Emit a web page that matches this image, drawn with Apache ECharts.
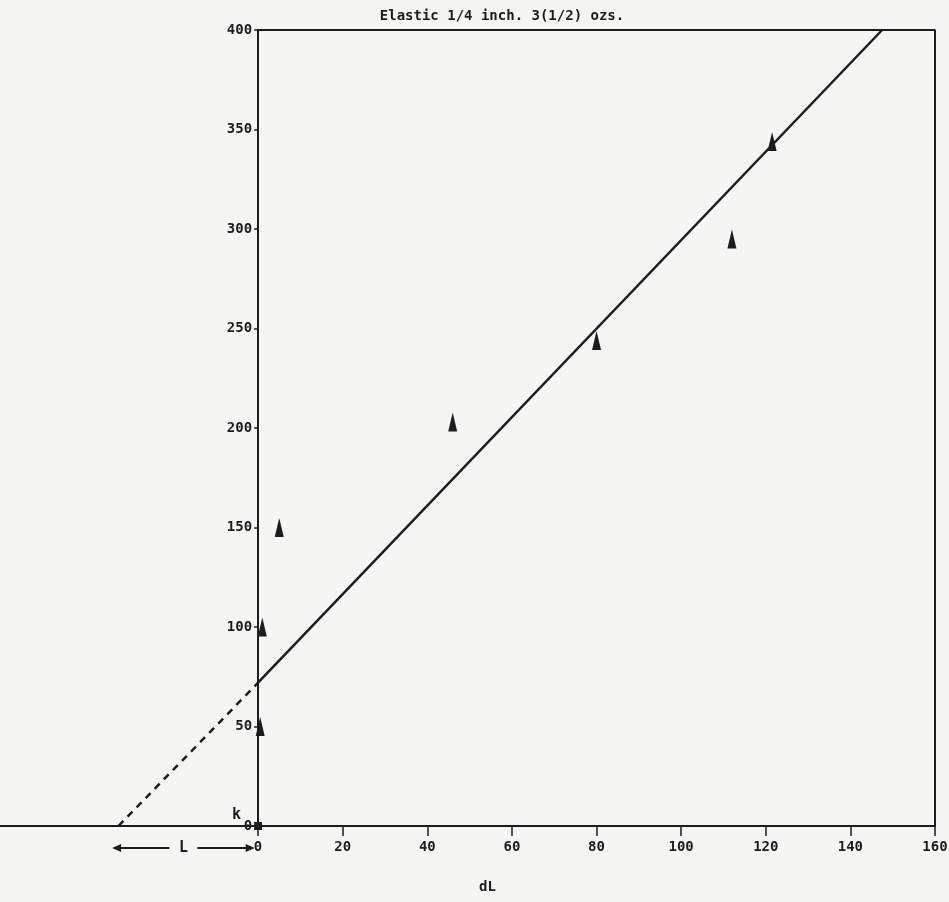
<!DOCTYPE html>
<html>
<head>
<meta charset="utf-8">
<script src="https://cdn.jsdelivr.net/npm/echarts@6/dist/echarts.min.js"></script>
<style>
html,body{margin:0;padding:0;background:#f5f5f3;}
#chart{width:949px;height:902px;}
</style>
</head>
<body>
<div id="chart"></div>
<script>
// ---- data ----
var titleText = 'Elastic 1/4 inch. 3(1/2) ozs.';
var xTickValues = [0, 20, 40, 60, 80, 100, 120, 140, 160];
var yTickValues = [0, 50, 100, 150, 200, 250, 300, 350, 400];
var pointsX = [0.5, 1, 5, 46, 80, 112, 121.5];
var pointsY = [50, 100, 150, 203, 244, 295, 344];
var originPoint = [[0, 0]];
var fitSolid = [[0, 72], [147.5, 400]];
var fitDashed = [[-33, 0], [0, 72]];
var xMin = -61, xMax = 160, yMin = 0, yMax = 400;

var ink = '#1c1c1c';
var font = 'DejaVu Sans Mono';
var gridLeft = 0;

var chart = echarts.init(document.getElementById('chart'));
var pts = pointsX.map(function (x, i) { return [x, pointsY[i]]; });
var frame = [[0, yMax], [xMax, yMax], [xMax, yMin]];

chart.setOption({
  backgroundColor: '#f5f5f3',
  animation: false,
  title: {
    text: titleText, left: 497, top: 4, textAlign: 'center',
    textStyle: { fontFamily: font, fontWeight: 'bold', fontSize: 14, color: ink }
  },
  grid: { left: gridLeft, right: 14, top: 30, bottom: 76, containLabel: false, outerBoundsMode: 'none' },
  xAxis: {
    type: 'value', min: xMin, max: xMax,
    name: 'dL', nameLocation: 'middle', nameGap: 54,
    nameTextStyle: { fontFamily: font, fontWeight: 'bold', fontSize: 14, color: ink, padding: [0, 0, 0, 40] },
    axisLine: { show: true, onZero: false, lineStyle: { color: ink, width: 2 } },
    axisTick: { show: true, customValues: xTickValues, length: 10, lineStyle: { color: ink, width: 1.5 } },
    axisLabel: { show: true, customValues: xTickValues, margin: 14, fontFamily: font, fontWeight: 'bold', fontSize: 14, color: ink },
    splitLine: { show: false }
  },
  yAxis: {
    type: 'value', min: yMin, max: yMax, position: 'left', offset: 0,
    axisLine: { show: true, onZero: false, lineStyle: { color: ink, width: 2 } },
    axisTick: { show: true, customValues: yTickValues, length: 4, lineStyle: { color: ink, width: 1.5 } },
    axisLabel: { show: true, customValues: yTickValues, margin: 6, fontFamily: font, fontWeight: 'bold', fontSize: 14, color: ink },
    splitLine: { show: false }
  },
  series: [
    { type: 'line', data: frame, symbol: 'none', lineStyle: { color: ink, width: 2 }, silent: true },
    { type: 'line', data: fitSolid, symbol: 'none', lineStyle: { color: ink, width: 2.5 }, silent: true },
    { type: 'line', data: fitDashed, symbol: 'none', lineStyle: { color: ink, width: 2.5, type: [7, 6] }, silent: true },
    { type: 'scatter', data: pts, symbol: 'triangle', symbolSize: [9, 19], itemStyle: { color: ink, opacity: 1 } },
    { type: 'scatter', data: originPoint, symbol: 'rect', symbolSize: 8, itemStyle: { color: ink, opacity: 1 } }
  ]
});

// move the y axis onto x = 0 using the x scale
var p0 = chart.convertToPixel({ gridIndex: 0 }, [0, 0]);
chart.setOption({ yAxis: { offset: -(p0[0] - gridLeft) } });

// annotations below the axis (L arrow, k label), placed through the axis scale
var pL = chart.convertToPixel({ gridIndex: 0 }, [-34.5, 0]);
var pR = chart.convertToPixel({ gridIndex: 0 }, [-0.8, 0]);
var pK = chart.convertToPixel({ gridIndex: 0 }, [-4, 0]);
var ay = pL[1] + 22;
var midX = (pL[0] + pR[0]) / 2;
chart.setOption({
  graphic: [
    { type: 'line', shape: { x1: pL[0] + 6, y1: ay, x2: midX - 14, y2: ay }, style: { stroke: ink, lineWidth: 2 } },
    { type: 'line', shape: { x1: midX + 14, y1: ay, x2: pR[0] - 6, y2: ay }, style: { stroke: ink, lineWidth: 2 } },
    { type: 'polygon', shape: { points: [[pL[0], ay], [pL[0] + 9, ay - 4], [pL[0] + 9, ay + 4]] }, style: { fill: ink } },
    { type: 'polygon', shape: { points: [[pR[0], ay], [pR[0] - 9, ay - 4], [pR[0] - 9, ay + 4]] }, style: { fill: ink } },
    { type: 'text', x: midX, y: ay, style: { text: 'L', fontFamily: font, fontWeight: 'bold', fontSize: 15, fill: ink, align: 'center', verticalAlign: 'middle' } },
    { type: 'text', x: pK[0], y: pK[1] - 3, style: { text: 'k', fontFamily: font, fontWeight: 'bold', fontSize: 15, fill: ink, align: 'right', verticalAlign: 'bottom' } }
  ]
});
</script>
</body>
</html>
